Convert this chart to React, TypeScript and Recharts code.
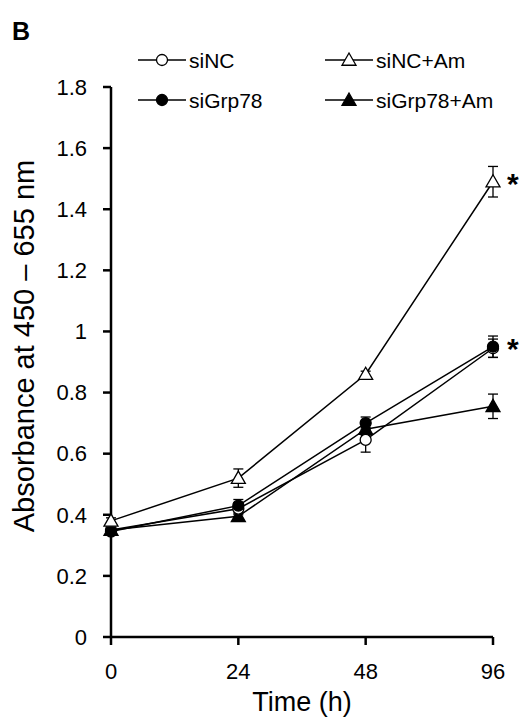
import React from 'react';
import { LineChart, Line, XAxis, YAxis, ErrorBar, LabelList } from 'recharts';

const times = ['0', '24', '48', '96'];
const yTicks = [0, 0.2, 0.4, 0.6, 0.8, 1.0, 1.2, 1.4, 1.6, 1.8];

const siNC = [0.35, 0.42, 0.645, 0.945];
const siNCErr = [0.01, 0.02, 0.04, 0.03];
const siNCAm = [0.38, 0.52, 0.86, 1.49];
const siNCAmErr = [0.01, 0.03, 0.01, 0.05];
const siGrp78 = [0.345, 0.43, 0.70, 0.95];
const siGrp78Err = [0.01, 0.02, 0.02, 0.035];
const siGrp78Am = [0.35, 0.395, 0.68, 0.755];
const siGrp78AmErr = [0.01, 0.01, 0.02, 0.04];

// asterisk marks at 96 h
const starred = ['siNCAm', 'siGrp78'];

const data = times.map((t, i) => ({
  time: t,
  siNC: siNC[i],
  siNCErr: siNCErr[i],
  siNCAm: siNCAm[i],
  siNCAmErr: siNCAmErr[i],
  siGrp78: siGrp78[i],
  siGrp78Err: siGrp78Err[i],
  siGrp78Am: siGrp78Am[i],
  siGrp78AmErr: siGrp78AmErr[i],
}));

const FONT = 'Arial, "Liberation Sans", sans-serif';

const circle = (filled: boolean) => (props: any) => (
  <circle key={props.key ?? props.index} cx={props.cx} cy={props.cy} r={5.5}
    fill={filled ? '#000' : '#fff'} stroke="#000" strokeWidth={1.3} />
);

const triangle = (filled: boolean) => (props: any) => {
  const { cx, cy } = props;
  const s = 7;
  return (
    <path key={props.key ?? props.index}
      d={`M${cx},${cy - s} L${cx + s},${cy + s * 0.75} L${cx - s},${cy + s * 0.75} Z`}
      fill={filled ? '#000' : '#fff'} stroke="#000" strokeWidth={1.3} />
  );
};

const star = (props: any) => {
  const { x, y, index } = props;
  if (index !== 3) return null;
  return (
    <text x={x + 14} y={y + 12} fontSize={30} fontWeight="bold" fontFamily={FONT} fill="#000">*</text>
  );
};

const LegendItem = ({ x, y, label, marker }: { x: number; y: number; label: string; marker: (p: any) => any }) => (
  <g>
    <line x1={x} y1={y} x2={x + 48} y2={y} stroke="#000" strokeWidth={1.5} />
    {marker({ cx: x + 24, cy: y, index: 0 })}
    <text x={x + 51} y={y + 8} fontSize={21} fontFamily={FONT} fill="#000">{label}</text>
  </g>
);

const axisTick = { fontSize: 22, fontFamily: FONT, fill: '#000' };

const App = () => {
  return (
    <div style={{ position: 'absolute', left: 0, top: 0, width: 526, height: 719, background: '#fff' }}>
      <div style={{ position: 'absolute', left: 12, top: 19, fontFamily: FONT, fontWeight: 'bold', fontSize: 25, lineHeight: 1 }}>B</div>
      <LineChart width={526} height={719} data={data} margin={{ top: 87, right: 33, left: 0, bottom: 0 }}>
        <XAxis dataKey="time" type="category" height={82}
          axisLine={{ stroke: '#000', strokeWidth: 2.5 }} tickLine={{ stroke: '#000', strokeWidth: 2.5 }}
          tickSize={8} tickMargin={18} padding={{ left: 0, right: 0 }}
          tick={axisTick}
          label={{
            content: () => (
              <text x={302} y={711} textAnchor="middle" fontSize={27} fontFamily={FONT} fill="#000">Time (h)</text>
            ),
          }} />
        <YAxis type="number" domain={[0, 1.8]} ticks={yTicks} width={111}
          axisLine={{ stroke: '#000', strokeWidth: 2.5 }} tickLine={{ stroke: '#000', strokeWidth: 2.5 }}
          tickSize={8} tickMargin={16} interval={0}
          tickFormatter={(v: number) => String(Number(v.toFixed(1)))}
          tick={axisTick}
          label={{
            content: () => (
              <text x={34} y={346} transform="rotate(-90 34 346)" textAnchor="middle"
                fontSize={29} fontFamily={FONT} fill="#000">Absorbance at 450 – 655 nm</text>
            ),
          }} />
        <Line dataKey="siGrp78Am" stroke="#000" strokeWidth={1.5} dot={triangle(true)} isAnimationActive={false}>
          <ErrorBar dataKey="siGrp78AmErr" width={5} stroke="#000" strokeWidth={1.3} direction="y" />
        </Line>
        <Line dataKey="siNC" stroke="#000" strokeWidth={1.5} dot={circle(false)} isAnimationActive={false}>
          <ErrorBar dataKey="siNCErr" width={5} stroke="#000" strokeWidth={1.3} direction="y" />
        </Line>
        <Line dataKey="siGrp78" stroke="#000" strokeWidth={1.5} dot={circle(true)} isAnimationActive={false}>
          <ErrorBar dataKey="siGrp78Err" width={5} stroke="#000" strokeWidth={1.3} direction="y" />
          {starred.includes('siGrp78') && <LabelList dataKey="siGrp78" content={star} />}
        </Line>
        <Line dataKey="siNCAm" stroke="#000" strokeWidth={1.5} dot={triangle(false)} isAnimationActive={false}>
          <ErrorBar dataKey="siNCAmErr" width={5} stroke="#000" strokeWidth={1.3} direction="y" />
          {starred.includes('siNCAm') && <LabelList dataKey="siNCAm" content={star} />}
        </Line>
        <g>
          <LegendItem x={138} y={60} label="siNC" marker={circle(false)} />
          <LegendItem x={325} y={60} label="siNC+Am" marker={triangle(false)} />
          <LegendItem x={138} y={100} label="siGrp78" marker={circle(true)} />
          <LegendItem x={325} y={100} label="siGrp78+Am" marker={triangle(true)} />
        </g>
      </LineChart>
    </div>
  );
};

export default App;
